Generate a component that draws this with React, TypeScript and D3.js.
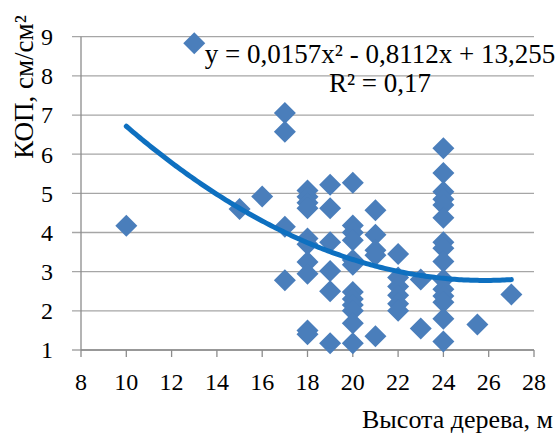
import React from "react";
import * as d3 from "d3";

const xTicks = [8, 10, 12, 14, 16, 18, 20, 22, 24, 26, 28];
const yTicks = [1, 2, 3, 4, 5, 6, 7, 8, 9];

const heights = [
  10,
  13,
  15,
  16,
  17, 17, 17, 17,
  18, 18, 18, 18, 18, 18, 18, 18, 18, 18,
  19, 19, 19, 19, 19, 19,
  20, 20, 20, 20, 20, 20, 20, 20, 20, 20, 20, 20,
  21, 21, 21, 21, 21,
  22, 22, 22, 22, 22, 22,
  23, 23,
  24, 24, 24, 24, 24, 24, 24, 24, 24, 24, 24, 24, 24, 24, 24,
  25.5,
  27,
];
const kopValues = [
  4.17,
  8.83,
  4.6,
  4.92,
  7.05, 6.57, 4.15, 2.78,
  5.07, 4.91, 4.76, 4.62, 3.85, 3.7, 3.25, 2.95, 1.5, 1.4,
  5.22, 4.62, 3.75, 3.02, 2.5, 1.17,
  5.27, 4.18, 4.0, 3.8, 3.3, 3.18, 2.48, 2.3, 2.15, 2.0, 1.68, 1.17,
  4.57, 3.94, 3.55, 3.42, 1.35,
  3.45, 2.85, 2.62, 2.4, 2.18, 2.0,
  2.8, 1.55,
  6.15, 5.52, 5.04, 4.85, 4.7, 4.38, 3.75, 3.6, 3.26, 2.8, 2.55, 2.38, 2.22, 1.8, 1.22,
  1.65,
  2.42,
];
const trendCoefs = [0.0157, -0.8112, 13.255];
const trendRange = [10, 27];
const equationLabel = "y = 0,0157x² - 0,8112x + 13,255";
const r2Label = "R² = 0,17";
const xTitle = "Высота дерева, м";
const yTitle = "КОП, см/см²";

const W = 556;
const H = 434;
const FONT = "'Liberation Serif', 'Times New Roman', serif";
const R = 11;
const diamondPath = `M0,${-R}L${R},0L0,${R}L${-R},0Z`;

export default function App() {
  const x = d3.scaleLinear().domain([8, 28]).range([81, 534]);
  const y = d3.scaleLinear().domain([1, 9]).range([350, 36.7]);

  const points = heights.map((h, i) => ({ h, v: kopValues[i] }));
  const trendX = d3.range(trendRange[0], trendRange[1] + 0.001, 0.1);
  const trendLine = d3
    .line<number>()
    .x((d) => x(d))
    .y((d) => y(trendCoefs[0] * d * d + trendCoefs[1] * d + trendCoefs[2]))
    .curve(d3.curveMonotoneX);

  return (
    <svg
      width={W}
      height={H}
      viewBox={`0 0 ${W} ${H}`}
      style={{ position: "absolute", left: 0, top: 0, background: "#fff" }}
    >
      <rect x={0} y={0} width={W} height={H} fill="#fff" />
      {yTicks.map((t) => (
        <line
          key={"g" + t}
          x1={72}
          x2={534}
          y1={y(t)}
          y2={y(t)}
          stroke="#A6A6A6"
          strokeWidth={1.3}
        />
      ))}
      <line x1={x(8)} x2={x(8)} y1={y(9)} y2={y(1)} stroke="#8C8C8C" strokeWidth={1.3} />
      <line x1={x(8)} x2={x(28)} y1={y(1)} y2={y(1)} stroke="#8C8C8C" strokeWidth={1.3} />
      {xTicks.map((t) => (
        <line
          key={"xt" + t}
          x1={x(t)}
          x2={x(t)}
          y1={y(1)}
          y2={y(1) + 7}
          stroke="#8C8C8C"
          strokeWidth={1.3}
        />
      ))}
      {xTicks.map((t) => (
        <text
          key={"xl" + t}
          x={x(t)}
          y={390}
          textAnchor="middle"
          fontFamily={FONT}
          fontSize={24}
          fill="#000"
        >
          {t}
        </text>
      ))}
      {yTicks.map((t) => (
        <text
          key={"yl" + t}
          x={53}
          y={y(t)}
          dy="0.35em"
          textAnchor="end"
          fontFamily={FONT}
          fontSize={24}
          fill="#000"
        >
          {t}
        </text>
      ))}
      {points.map((p, i) => (
        <path
          key={"p" + i}
          d={diamondPath}
          transform={`translate(${x(p.h)},${y(p.v)})`}
          fill="#4A7EBB"
        />
      ))}
      <path
        d={trendLine(trendX) as string}
        fill="none"
        stroke="#0E70C0"
        strokeWidth={5}
        strokeLinecap="round"
      />
      <text
        x={380}
        y={63}
        textAnchor="middle"
        fontFamily={FONT}
        fontSize={27}
        fill="#000"
      >
        {equationLabel}
      </text>
      <text
        x={380}
        y={92}
        textAnchor="middle"
        fontFamily={FONT}
        fontSize={27}
        fill="#000"
      >
        {r2Label}
      </text>
      <text
        x={553}
        y={428}
        textAnchor="end"
        fontFamily={FONT}
        fontSize={26}
        fill="#000"
      >
        {xTitle}
      </text>
      <text
        transform="translate(33,87) rotate(-90)"
        textAnchor="middle"
        fontFamily={FONT}
        fontSize={27}
        fill="#000"
      >
        {yTitle}
      </text>
    </svg>
  );
}
